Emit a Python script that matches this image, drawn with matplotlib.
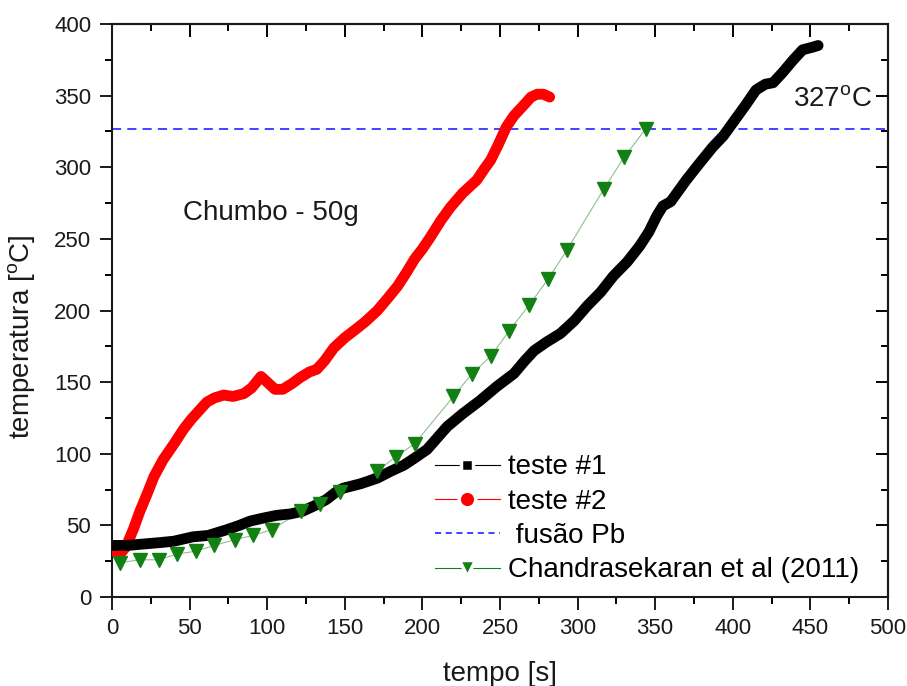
import numpy as np
import matplotlib
matplotlib.use("Agg")
import matplotlib.pyplot as plt
from matplotlib.lines import Line2D

plt.rcParams['font.family'] = ['Liberation Sans', 'DejaVu Sans']
plt.rcParams['mathtext.fontset'] = 'custom'
plt.rcParams['mathtext.rm'] = 'Liberation Sans'

# teste #1 (black)
t1 = [0, 10, 20, 31, 40, 52, 62, 74, 82, 89, 97, 106, 115, 123, 131, 138, 144,
      149, 160, 171, 180, 188, 195, 203, 216, 226, 237, 248, 259, 266, 272, 280,
      289, 298, 306, 315, 323, 332, 340, 346, 351, 355, 360, 364, 370, 378, 387,
      394, 400, 408, 415, 421, 426, 432, 439, 445, 452, 455]
T1 = [36, 36, 37, 38, 39, 42, 43, 47, 50, 53, 55, 57, 58, 60, 64, 68, 73,
      76, 79, 83, 88, 92, 97, 103, 119, 128, 137, 147, 156, 165, 172, 178,
      184, 193, 203, 213, 224, 234, 245, 255, 266, 273, 276, 282, 291, 302, 314,
      322, 331, 343, 354, 358, 359, 366, 375, 382, 384, 385]

# teste #2 (red)
t2 = [1, 5, 9, 14, 18, 23, 27, 33, 40, 46, 51, 56, 61, 66, 72, 78, 85, 90, 96,
      101, 105, 110, 116, 121, 127, 132, 137, 143, 150, 156, 163, 171, 178, 184,
      190, 195, 200, 205, 212, 218, 226, 235, 240, 244, 249, 254, 259, 265, 270,
      274, 278, 282]
T2 = [32, 30, 35, 48, 60, 73, 84, 96, 107, 117, 124, 130, 136, 139, 141, 140,
      142, 146, 154, 149, 145, 145, 149, 153, 157, 159, 165, 174, 181, 186, 192,
      200, 209, 217, 227, 236, 243, 251, 263, 272, 282, 291, 299, 305, 316, 328,
      336, 343, 349, 351, 351, 349]

# Chandrasekaran et al (2011)
t3 = [5, 18, 30, 42, 54, 66, 79, 91, 103, 122, 134, 147, 171, 183, 195, 220,
      232, 244, 256, 269, 281, 293, 317, 330, 344]
T3 = [24, 26, 26, 30, 32, 36, 40, 43, 47, 60, 65, 73, 88, 98, 107, 140,
      156, 168, 186, 204, 222, 242, 285, 307, 327]

fusao_pb = 327

labels = ['teste #1', 'teste #2', ' fusão Pb', 'Chandrasekaran et al (2011)']

fig = plt.figure(figsize=(9.07, 6.86), dpi=100)
ax = fig.add_axes([0.1235, 0.1297, 0.8555, 0.8353])

ax.axhline(fusao_pb, color='#1010ff', lw=1.1, ls=(0, (6, 4)), zorder=1)
ax.plot(t3, T3, color='#8fbf8f', lw=0.8, zorder=2)
ax.plot(t2, T2, color='#ff0000', lw=7.8, solid_joinstyle='round',
        solid_capstyle='round', zorder=3)
ax.plot(t1, T1, color='black', lw=7.8, solid_joinstyle='round',
        solid_capstyle='round', zorder=3)
ax.plot(t3, T3, ls='none', marker='v', ms=10, color='#138013', zorder=4)

ax.set_xlim(0, 500)
ax.set_ylim(0, 400)
ax.set_xticks(np.arange(0, 501, 50))
ax.set_yticks(np.arange(0, 401, 50))
ax.set_xticks(np.arange(25, 500, 50), minor=True)
ax.set_yticks(np.arange(25, 400, 50), minor=True)
ax.tick_params(which='major', direction='out', length=9, width=1.4,
               labelsize=16, pad=6, colors='#1a1a1a')
ax.tick_params(which='minor', direction='out', length=5, width=1.4)
for s in ax.spines.values():
    s.set_linewidth(1.5)
    s.set_color('#1a1a1a')

# mirror ticks pointing inward on top and right
top = ax.secondary_xaxis('top')
top.set_xticks(np.arange(0, 501, 50))
top.set_xticks(np.arange(25, 500, 50), minor=True)
top.tick_params(which='major', direction='in', length=9, width=1.4, labeltop=False)
top.tick_params(which='minor', direction='in', length=5, width=1.4)
top.spines['top'].set_linewidth(1.5)
right = ax.secondary_yaxis('right')
right.set_yticks(np.arange(0, 401, 50))
right.set_yticks(np.arange(25, 400, 50), minor=True)
right.tick_params(which='major', direction='in', length=9, width=1.4, labelright=False)
right.tick_params(which='minor', direction='in', length=5, width=1.4)
right.spines['right'].set_linewidth(1.5)

ax.set_xlabel('tempo [s]', fontsize=20, labelpad=16, color='#1a1a1a')
ax.set_ylabel(r'temperatura [$^{\mathrm{o}}$C]', fontsize=20, color='#1a1a1a')
ax.yaxis.set_label_coords(-0.095, 0.455)

ax.text(45.7, 268, 'Chumbo - 50g', fontsize=20, va='center', ha='left', color='#1a1a1a')
ax.text(438.5, 347, r'327$^{\mathrm{o}}$C', fontsize=20, va='center', ha='left', color='#1a1a1a')

handles = [
    Line2D([], [], color='black', lw=0.8, marker='s', ms=9, mfc='black',
           mec='white', mew=2.5),
    Line2D([], [], color='#ff0000', lw=0.8, marker='o', ms=12, mfc='#ff0000',
           mec='white', mew=2.5),
    Line2D([], [], color='#1010ff', lw=1.1, ls=(0, (4, 3))),
    Line2D([], [], color='#138013', lw=0.8, marker='v', ms=12, mfc='#138013',
           mec='white', mew=2.5),
]
ax.legend(handles, labels, loc='upper left', bbox_to_anchor=(0.416, 0.249),
          frameon=False, fontsize=20, handlelength=2.35, handletextpad=0.3,
          labelspacing=0.3, borderpad=0, borderaxespad=0)

fig.savefig('out.png', dpi=100)
